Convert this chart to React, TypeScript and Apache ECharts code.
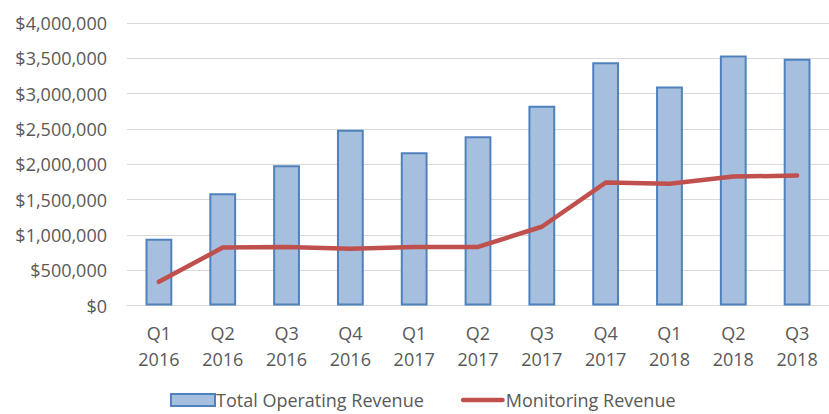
import React, { useEffect, useRef } from "react";
import * as echarts from "echarts";

const categories = ["Q1\n2016", "Q2\n2016", "Q3\n2016", "Q4\n2016", "Q1\n2017", "Q2\n2017", "Q3\n2017", "Q4\n2017", "Q1\n2018", "Q2\n2018", "Q3\n2018"];
const totalOperatingRevenue = [945000, 1590000, 1985000, 2490000, 2170000, 2395000, 2830000, 3445000, 3100000, 3540000, 3495000];
const monitoringRevenue = [335000, 820000, 830000, 805000, 830000, 830000, 1115000, 1740000, 1725000, 1825000, 1840000];

const FONT = "'Open Sans', 'Noto Sans', sans-serif";
const TEXT = "#595959";

export default function App() {
  const ref = useRef<HTMLDivElement>(null);
  useEffect(() => {
    if (!ref.current) return;
    const chart = echarts.init(ref.current, null, { renderer: "svg" });
    chart.setOption({
      animation: false,
      backgroundColor: "#ffffff",
      textStyle: { fontFamily: FONT },
      grid: { left: 127, right: -5, top: 23, bottom: 108.5 },
      legend: {
        top: 391,
        left: 170,
        padding: 0,
        itemWidth: 44,
        itemHeight: 12,
        itemGap: 37,
        textStyle: { fontFamily: FONT, fontSize: 18, lineHeight: 18, color: TEXT, padding: [0, 0, 0, -4] },
        data: [
          { name: "Total Operating Revenue", icon: "rect" },
          { name: "Monitoring Revenue", icon: "path://M2.5,0 H46.5 A2.5,2.5 0 0 1 46.5,5 H2.5 A2.5,2.5 0 0 1 2.5,0 Z" },
        ],
      },
      xAxis: {
        type: "category",
        data: categories,
        axisLine: { show: true, lineStyle: { color: "#d9d9d9", width: 1 } },
        axisTick: { show: false },
        axisLabel: { color: TEXT, fontSize: 18, lineHeight: 26, margin: 14, fontFamily: FONT },
      },
      yAxis: {
        type: "value",
        min: 0,
        max: 4000000,
        interval: 500000,
        axisLine: { show: false },
        axisTick: { show: false },
        splitLine: { lineStyle: { color: "#d9d9d9", width: 1 } },
        axisLabel: {
          color: TEXT,
          fontSize: 18,
          margin: 20,
          fontFamily: FONT,
          formatter: (v: number) => "$" + v.toLocaleString("en-US"),
        },
      },
      series: [
        {
          name: "Total Operating Revenue",
          type: "bar",
          data: totalOperatingRevenue,
          barWidth: "42%",
          itemStyle: { color: "#a7bfde", borderColor: "#4f81bd", borderWidth: 2 },
        },
        {
          name: "Monitoring Revenue",
          type: "line",
          data: monitoringRevenue,
          symbol: "none",
          lineStyle: { color: "#c0504d", width: 4.5, cap: "round", join: "round" },
          itemStyle: { color: "#c0504d" },
        },
      ],
    });
    return () => chart.dispose();
  }, []);
  return <div ref={ref} style={{ width: 829, height: 414, position: "absolute", left: 0, top: 0 }} />;
}
